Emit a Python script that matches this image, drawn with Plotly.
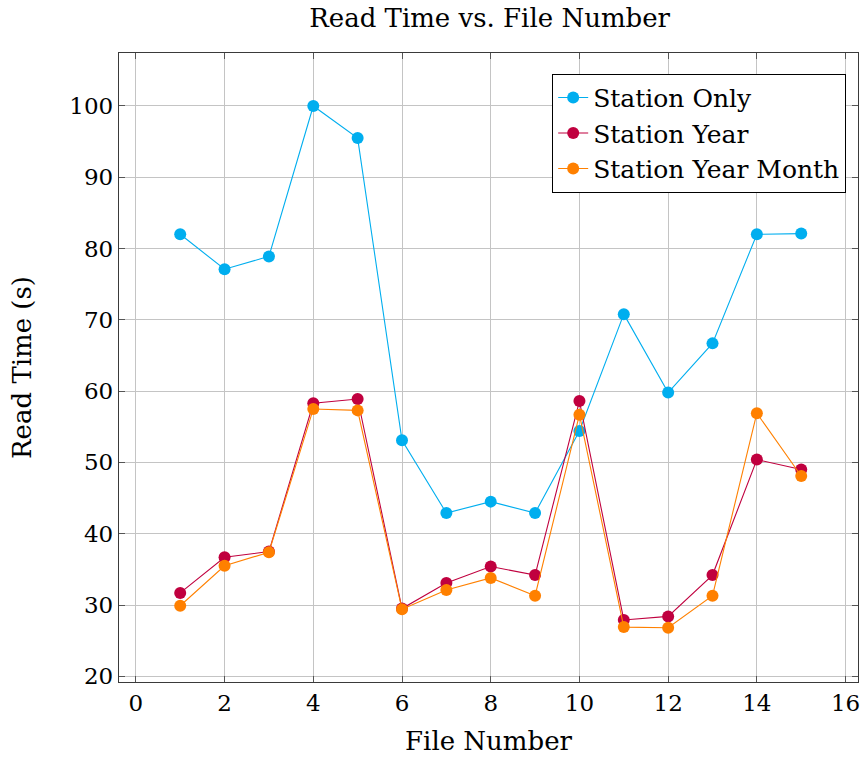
import plotly.graph_objects as go

file_numbers = list(range(1, 16))
station_only = [82.0, 77.1, 78.9, 100.0, 95.5, 53.1, 42.9, 44.5, 42.9, 54.4, 70.8, 59.8, 66.7, 82.0, 82.1]
station_year = [31.7, 36.7, 37.5, 58.3, 58.9, 29.5, 33.1, 35.4, 34.2, 58.6, 27.9, 28.4, 34.2, 50.4, 49.0]
station_year_month = [29.9, 35.5, 37.4, 57.5, 57.3, 29.4, 32.1, 33.8, 31.3, 56.7, 26.9, 26.8, 31.3, 56.9, 48.1]

series_names = ["Station Only", "Station Year", "Station Year Month"]
series_colors = ["#00AEEF", "#C0003F", "#FF8000"]
x_ticks = list(range(0, 17, 2))
y_ticks = list(range(20, 101, 10))

FONT = "DejaVu Serif"
TXT = 26
LEG = 25
TICK = 23

fig = go.Figure()
for name, vals, col in zip(series_names, [station_only, station_year, station_year_month], series_colors):
    fig.add_trace(go.Scatter(
        x=file_numbers, y=vals, name=name, mode="lines+markers",
        line=dict(color=col, width=1.1),
        marker=dict(color=col, size=12, line=dict(width=0)),
    ))

axis_common = dict(
    showline=True, linecolor="#3a3a3a", linewidth=1.3, mirror="allticks",
    ticks="inside", ticklen=6, tickcolor="#555555", tickwidth=1,
    showgrid=True, gridcolor="#c4c4c4", gridwidth=1, zeroline=False,
    tickfont=dict(family=FONT, size=TICK, color="black"),
    ticklabeloverflow="allow",
)

fig.update_layout(
    width=862, height=758,
    margin=dict(l=119, r=2, t=53, b=76),
    paper_bgcolor="white", plot_bgcolor="white",
    title=dict(text="Read Time vs. File Number", x=0.568, xanchor="center", y=0.976, yanchor="middle",
               font=dict(family=FONT, size=TXT, color="black")),
    xaxis=dict(range=[-0.38, 16.28], tickvals=x_ticks,
               title=dict(text="File Number", font=dict(family=FONT, size=TXT, color="black"), standoff=17),
               **axis_common),
    yaxis=dict(range=[19.2, 107.43], tickvals=y_ticks,
               title=dict(text="Read Time (s)", font=dict(family=FONT, size=TXT, color="black"), standoff=30),
               **axis_common),
    legend=dict(x=0.984, y=0.967, xanchor="right", yanchor="top",
                bgcolor="white", bordercolor="black", borderwidth=1,
                font=dict(family=FONT, size=LEG, color="black"),
                itemwidth=30, tracegroupgap=0),
    showlegend=True,
)

fig.write_html("out.html")
